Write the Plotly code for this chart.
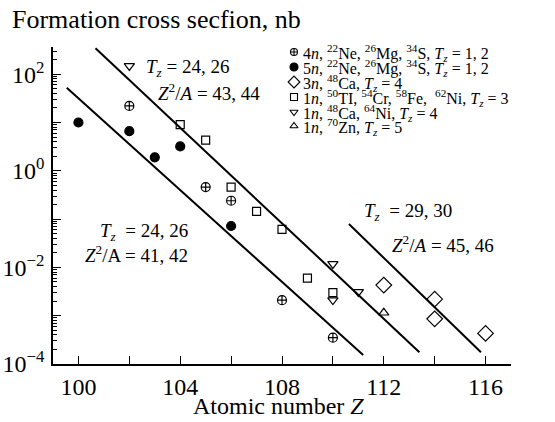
import plotly.graph_objects as go

# Formation cross sections (nb) versus atomic number Z
z_4n = [102, 105, 106, 108, 110]
s_4n = [22, 0.46, 0.24, 0.0021, 0.00035]

z_5n = [100, 102, 103, 104, 106]
s_5n = [10, 6.6, 1.9, 3.2, 0.072]

z_3n = [112, 114, 114, 116]
s_3n = [0.0043, 0.0022, 0.00086, 0.00043]

z_1n_tz3 = [104, 105, 106, 107, 108, 109, 110]
s_1n_tz3 = [9.0, 4.3, 0.46, 0.145, 0.0615, 0.006, 0.003]

z_1n_tz4 = [102, 110, 110, 111]
s_1n_tz4 = [148, 0.0118, 0.0021, 0.0031]

z_1n_tz5 = [112]
s_1n_tz5 = [0.00115]

# Systematics lines (end points) for groups of Z^2/A
line_41_z = [99.54, 111.19]
line_41_s = [52.5, 1.53e-4]
line_43_z = [100.67, 113.4]
line_43_s = [344, 1.75e-4]
line_45_z = [110.63, 115.82]
line_45_s = [0.079, 1.75e-4]

x_tick_vals = [100, 102, 104, 106, 108, 110, 112, 114, 116]
x_tick_text = ["100", "", "104", "", "108", "", "112", "", "116"]
y_tick_vals = [1e-4, 1e-3, 1e-2, 1e-1, 1, 10, 100]
y_tick_text = ["10<sup>\u22124</sup>", "", "10<sup>\u22122</sup>", "",
               "10<sup>0</sup>", "", "10<sup>2</sup>"]

legend_labels = [
    "4<i>n</i>, <sup>22</sup>Ne, <sup>26</sup>Mg, <sup>34</sup>S, <i>T</i><sub><i>z</i></sub> = 1, 2",
    "5<i>n</i>, <sup>22</sup>Ne, <sup>26</sup>Mg, <sup>34</sup>S, <i>T</i><sub><i>z</i></sub> = 1, 2",
    "3<i>n</i>, <sup>48</sup>Ca, <i>T</i><sub><i>z</i></sub> = 4",
    "1<i>n</i>, <sup>50</sup>TI, <sup>54</sup>Cr, <sup>58</sup>Fe,  <sup>62</sup>Ni, <i>T</i><sub><i>z</i></sub> = 3",
    "1<i>n</i>, <sup>48</sup>Ca, <sup>64</sup>Ni, <i>T</i><sub><i>z</i></sub> = 4",
    "1<i>n</i>, <sup>70</sup>Zn, <i>T</i><sub><i>z</i></sub> = 5",
]

FONT = "Liberation Serif, Times New Roman, serif"
BLACK = "black"

# plot-area geometry in pixels, used to place text in paper coordinates
W, H = 555, 422
PL, PR, PT, PB = 53, 511, 47, 364


def px(x):
    return (x - PL) / (PR - PL)


def py(y):
    return (PB - y) / (PB - PT)


series = [
    (z_4n, s_4n, "circle-cross-open", 9, 7),
    (z_5n, s_5n, "circle", 9, 8),
    (z_3n, s_3n, "diamond-open", 12, 9),
    (z_1n_tz3, s_1n_tz3, "square-open", 8, 7),
    (z_1n_tz4, s_1n_tz4, "triangle-down-open", 9, 7),
    (z_1n_tz5, s_1n_tz5, "triangle-up-open", 9, 7),
]

fig = go.Figure()

for lz, ls in [(line_41_z, line_41_s), (line_43_z, line_43_s), (line_45_z, line_45_s)]:
    fig.add_trace(go.Scatter(x=lz, y=ls, mode="lines",
                             line=dict(color=BLACK, width=2),
                             showlegend=False, hoverinfo="skip"))

for zs, ss, sym, size, _ in series:
    fig.add_trace(go.Scatter(x=zs, y=ss, mode="markers",
                             marker=dict(symbol=sym, size=size, color=BLACK,
                                         line=dict(color=BLACK, width=1.2)),
                             showlegend=False, cliponaxis=False))

# key: markers on an overlay axis spanning the plot area, labels as annotations
legend_x = 294
legend_text_x = 302
legend_rows = [52, 67, 82, 97, 112, 126]
for (zs, ss, sym, _, lsize), row, label in zip(series, legend_rows, legend_labels):
    fig.add_trace(go.Scatter(x=[px(legend_x)], y=[py(row)], mode="markers",
                             xaxis="x2", yaxis="y2",
                             marker=dict(symbol=sym, size=lsize, color=BLACK,
                                         line=dict(color=BLACK, width=1.1)),
                             showlegend=False, cliponaxis=False))
    fig.add_annotation(x=px(legend_text_x), y=py(row + 1), xref="paper", yref="paper",
                       text=label, showarrow=False, xanchor="left", yanchor="middle",
                       borderpad=0,
                       font=dict(family=FONT, size=16, color=BLACK))

notes = [
    ("<i>T</i><sub><i>z</i></sub> = 24, 26", 145, 68, "left"),
    ("<i>Z</i><sup>2</sup>/<i>A</i> = 43, 44", 157, 92, "left"),
    ("<i>T</i><sub><i>z</i></sub>  = 24, 26", 189, 232, "right"),
    ("<i>Z</i><sup>2</sup>/A = 41, 42", 189, 254, "right"),
    ("<i>T</i><sub><i>z</i></sub>  = 29, 30", 363, 212, "left"),
    ("<i>Z</i><sup>2</sup>/<i>A</i> = 45, 46", 391, 244, "left"),
]
for text, x, y, anchor in notes:
    fig.add_annotation(x=px(x), y=py(y), xref="paper", yref="paper", text=text,
                       showarrow=False, xanchor=anchor, yanchor="middle",
                       borderpad=0,
                       font=dict(family=FONT, size=19, color=BLACK))

fig.add_annotation(x=px(11), y=py(19), xref="paper", yref="paper",
                   text="Formation cross secfion, nb", showarrow=False,
                   xanchor="left", yanchor="middle", borderpad=0,
                   font=dict(family=FONT, size=26, color=BLACK))
fig.add_annotation(x=px(278), y=py(406), xref="paper", yref="paper",
                   text="Atomic number <i>Z</i>", showarrow=False,
                   xanchor="center", yanchor="middle", borderpad=0,
                   font=dict(family=FONT, size=24, color=BLACK))

minor_vals = [m * 10.0 ** k for k in range(-4, 3) for m in range(2, 10)]

fig.update_layout(
    width=W, height=H,
    margin=dict(l=PL, r=W - PR, t=PT, b=H - PB, pad=0, autoexpand=False),
    paper_bgcolor="white", plot_bgcolor="white",
    showlegend=False,
    font=dict(family=FONT, color=BLACK),
    xaxis=dict(range=[99, 117], tickmode="array", tickvals=x_tick_vals,
               ticktext=x_tick_text, ticks="inside", ticklen=8, tickwidth=1.3,
               tickcolor=BLACK, showline=True, linecolor=BLACK, linewidth=1.5,
               showgrid=False, zeroline=False, ticklabelstandoff=0,
               automargin=False,
               tickfont=dict(family=FONT, size=24, color=BLACK)),
    yaxis=dict(type="log", range=[-4, 2.563], tickmode="array",
               tickvals=y_tick_vals, ticktext=y_tick_text, ticks="inside",
               ticklen=8, tickwidth=1.3, tickcolor=BLACK, showline=True,
               linecolor=BLACK, linewidth=1.5, showgrid=False, zeroline=False,
               ticklabelstandoff=2, automargin=False,
               minor=dict(tickmode="array", tickvals=minor_vals, ticks="inside",
                          ticklen=4, tickwidth=1, tickcolor=BLACK, showgrid=False),
               tickfont=dict(family=FONT, size=24, color=BLACK)),
    xaxis2=dict(overlaying="x", anchor="y2", range=[0, 1], visible=False),
    yaxis2=dict(overlaying="y", anchor="x2", range=[0, 1], visible=False),
)

fig.write_html("out.html")
